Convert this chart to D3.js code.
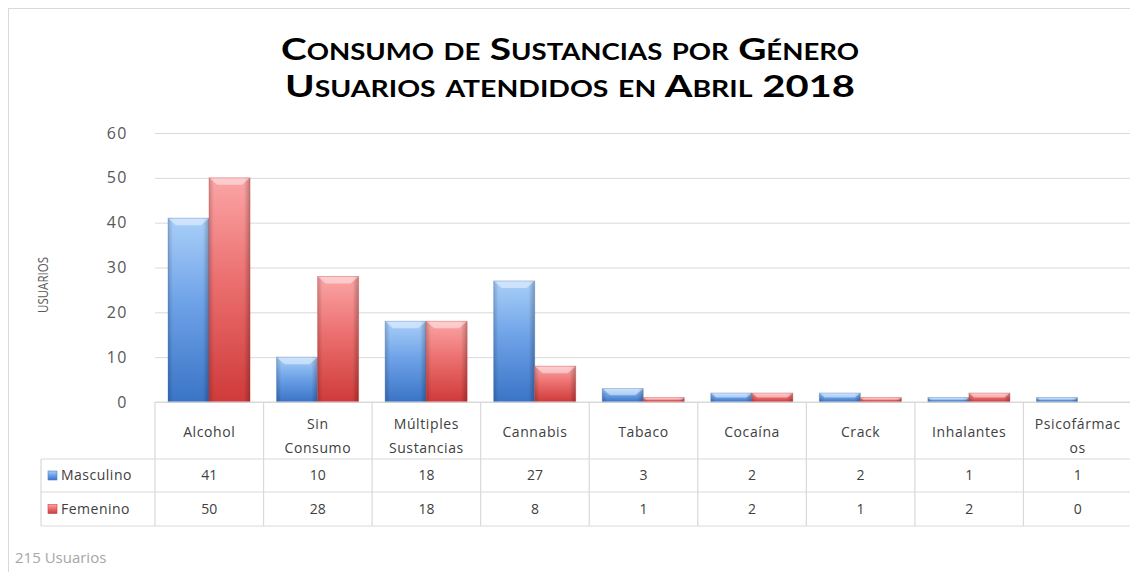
<!DOCTYPE html>
<html>
<head>
<meta charset="utf-8">
<script src="https://cdn.jsdelivr.net/npm/d3@7"></script>
<style>
  body { margin: 0; background: #fff; }
  svg { display: block; font-family: "Open Sans", sans-serif; }
</style>
</head>
<body>
<div id="chart"></div>
<script>
// data
const categories = ["Alcohol", "Sin Consumo", "Múltiples Sustancias", "Cannabis", "Tabaco", "Cocaína", "Crack", "Inhalantes", "Psicofármacos"];
const tickLabels = [["Alcohol"], ["Sin", "Consumo"], ["Múltiples", "Sustancias"], ["Cannabis"], ["Tabaco"], ["Cocaína"], ["Crack"], ["Inhalantes"], ["Psicofármac", "os"]];
const seriesNames = ["Masculino", "Femenino"];
const masculino = [41, 10, 18, 27, 3, 2, 2, 1, 1];
const femenino = [50, 28, 18, 8, 1, 2, 1, 2, 0];
const yTicks = [0, 10, 20, 30, 40, 50, 60];
const titleLines = ["Consumo de Sustancias  por Género", "Usuarios atendidos en Abril 2018"];
const yTitle = "USUARIOS";
const footNote = "215 Usuarios";

function init() {
    var w = 1130, h = 572;
    var svg = d3.select("#chart").append("svg")
        .attr("width", w)
        .attr("height", h);

    var left = 155, right = 1132, top = 133, bottom = 402;
    var rowH = [57, 33, 34]; // header, masculino, femenino

    // gradients for the bevelled bars
    var defs = svg.append("defs");
    var colors = [
        {id: "blue", light: "#a9cff8", mid: "#6fa3e8", dark: "#3a74c6", key: "#4a81cf"},
        {id: "red", light: "#fba5a5", mid: "#ec7070", dark: "#cf3a3a", key: "#c94444"}
    ];
    colors.forEach(c => {
        var g = defs.append("linearGradient").attr("id", "grad_" + c.id)
            .attr("x1", 0).attr("y1", 0).attr("x2", 0).attr("y2", 1);
        g.append("stop").attr("offset", "0%").attr("stop-color", c.light);
        g.append("stop").attr("offset", "45%").attr("stop-color", c.mid);
        g.append("stop").attr("offset", "100%").attr("stop-color", c.dark);
    });
    var side = defs.append("linearGradient").attr("id", "grad_side")
        .attr("x1", 0).attr("y1", 0).attr("x2", 1).attr("y2", 0);
    side.append("stop").attr("offset", "0%").attr("stop-color", "#000").attr("stop-opacity", 0.18);
    side.append("stop").attr("offset", "12%").attr("stop-color", "#000").attr("stop-opacity", 0);
    side.append("stop").attr("offset", "85%").attr("stop-color", "#000").attr("stop-opacity", 0);
    side.append("stop").attr("offset", "100%").attr("stop-color", "#000").attr("stop-opacity", 0.25);

    // outer border
    svg.append("rect")
        .attr("x", 8.5).attr("y", 8.5)
        .attr("width", w + 20).attr("height", h + 20)
        .attr("fill", "none").attr("stroke", "#d9d9d9");

    // title
    var titleWidths = [578, 570];
    svg.selectAll(".title").data(titleLines).enter().append("text")
        .attr("class", "title")
        .attr("x", 570)
        .attr("y", (d, i) => 60 + i * 37)
        .attr("text-anchor", "middle")
        .attr("textLength", (d, i) => titleWidths[i])
        .attr("lengthAdjust", "spacingAndGlyphs")
        .style("font-family", "Lato, sans-serif")
        .style("font-weight", "bold")
        .style("font-variant", "small-caps")
        .style("font-size", "31px")
        .style("fill", "#000")
        .text(d => d);

    // scales
    var xScale = d3.scaleBand()
        .domain(categories)
        .range([left, right])
        .paddingInner(0);
    var xInner = d3.scaleBand()
        .domain(seriesNames)
        .range([13, xScale.bandwidth() - 13.5]);
    var yScale = d3.scaleLinear()
        .domain([0, 60])
        .range([bottom, top]);

    // y axis with gridlines
    var yAxis = d3.axisLeft(yScale)
        .tickValues(yTicks)
        .tickSize(-(w - left))
        .tickPadding(27);
    var gy = svg.append("g")
        .attr("transform", "translate(" + left + ",0)")
        .call(yAxis);
    gy.select(".domain").remove();
    gy.selectAll(".tick line").attr("stroke", "#d9d9d9");
    gy.selectAll(".tick text")
        .style("font-family", "Open Sans, sans-serif")
        .style("font-size", "16px")
        .style("letter-spacing", "1.5px")
        .style("fill", "#595959");

    // y title
    svg.append("text")
        .attr("transform", "translate(48,285) rotate(-90)")
        .attr("text-anchor", "middle")
        .attr("textLength", 56)
        .attr("lengthAdjust", "spacingAndGlyphs")
        .style("font-size", "14px")
        .style("fill", "#595959")
        .text(yTitle);

    // bars
    var barData = [];
    categories.forEach((c, i) => {
        barData.push({cat: c, s: seriesNames[0], v: masculino[i], col: colors[0]});
        barData.push({cat: c, s: seriesNames[1], v: femenino[i], col: colors[1]});
    });
    var bars = svg.append("g").selectAll("g")
        .data(barData.filter(d => d.v > 0))
        .enter().append("g")
        .attr("transform", d => "translate(" + (xScale(d.cat) + xInner(d.s)) + ",0)");
    var bw = xInner.bandwidth();
    bars.append("rect")
        .attr("y", d => yScale(d.v))
        .attr("width", bw)
        .attr("height", d => bottom - yScale(d.v))
        .attr("fill", d => "url(#grad_" + d.col.id + ")");
    bars.append("rect")
        .attr("y", d => yScale(d.v))
        .attr("width", bw)
        .attr("height", d => bottom - yScale(d.v))
        .attr("fill", "url(#grad_side)");
    // top bevel
    bars.append("polygon")
        .attr("points", d => {
            var y0 = yScale(d.v), bh = Math.min(7, (bottom - y0) / 2), b = Math.min(8, bh * 1.2);
            return [[0, y0], [bw, y0], [bw - b, y0 + bh], [b, y0 + bh]].join(" ");
        })
        .attr("fill", "#fff")
        .attr("fill-opacity", 0.45);
    bars.append("rect")
        .attr("y", d => yScale(d.v))
        .attr("width", bw)
        .attr("height", d => bottom - yScale(d.v))
        .attr("fill", "none")
        .attr("stroke", d => d.col.dark)
        .attr("stroke-opacity", 0.35);

    // data table
    var table = svg.append("g").style("font-size", "14px").style("fill", "#404040");
    var line = (x1, y1, x2, y2) => table.append("line")
        .attr("x1", x1).attr("y1", y1).attr("x2", x2).attr("y2", y2)
        .attr("stroke", "#d9d9d9").attr("stroke-width", 1.2);
    var y1 = bottom + rowH[0], y2 = y1 + rowH[1], y3 = y2 + rowH[2];
    line(left, bottom, w, bottom);
    line(41, y1, w, y1);
    line(41, y2, w, y2);
    line(41, y3, w, y3);
    line(41, y1, 41, y3);
    categories.forEach(c => line(xScale(c), bottom, xScale(c), y3));
    line(right, bottom, right, y3);

    // header labels
    var headers = table.selectAll(".hdr").data(categories).enter().append("text")
        .attr("class", "hdr")
        .attr("y", bottom + rowH[0] / 2 + 2)
        .style("letter-spacing", "0.6px")
        .style("fill", "#404040");
    headers.each(function(c, i) {
        var lines = tickLabels[i];
        var t = d3.select(this);
        lines.forEach((l, j) => {
            var ts = t.append("tspan")
                .attr("x", xScale(c) + xScale.bandwidth() / 2)
                .attr("text-anchor", "middle")
                .attr("dy", j == 0 ? (0.35 - (lines.length - 1) * 0.62) + "em" : "1.7em")
                .text(l);
            if (ts.node().getComputedTextLength() > xScale.bandwidth() - 4) {
                ts.attr("text-anchor", "start").attr("x", xScale(c) + 3);
            }
        });
    });

    // value rows
    [masculino, femenino].forEach((vals, r) => {
        var cy = (r == 0 ? y1 + rowH[1] / 2 : y2 + rowH[2] / 2);
        table.selectAll(".val" + r).data(vals).enter().append("text")
            .attr("class", "val" + r)
            .attr("x", (d, i) => xScale(categories[i]) + xScale.bandwidth() / 2)
            .attr("y", cy)
            .attr("dy", "0.35em")
            .attr("text-anchor", "middle")
            .text(d => d);
        table.append("rect")
            .attr("x", 48).attr("y", cy - 4.5)
            .attr("width", 9).attr("height", 9)
            .attr("fill", "url(#grad_" + colors[r].id + ")")
            .attr("stroke", colors[r].key).attr("stroke-width", 0.6);
        table.append("text")
            .attr("x", 61).attr("y", cy).attr("dy", "0.35em")
            .style("letter-spacing", "0.5px")
            .text(seriesNames[r]);
    });

    // footnote
    svg.append("text")
        .attr("x", 15).attr("y", 563)
        .style("font-size", "15px")
        .style("fill", "#a6a6a6")
        .text(footNote);
}
window.onload = init;
</script>
</body>
</html>
